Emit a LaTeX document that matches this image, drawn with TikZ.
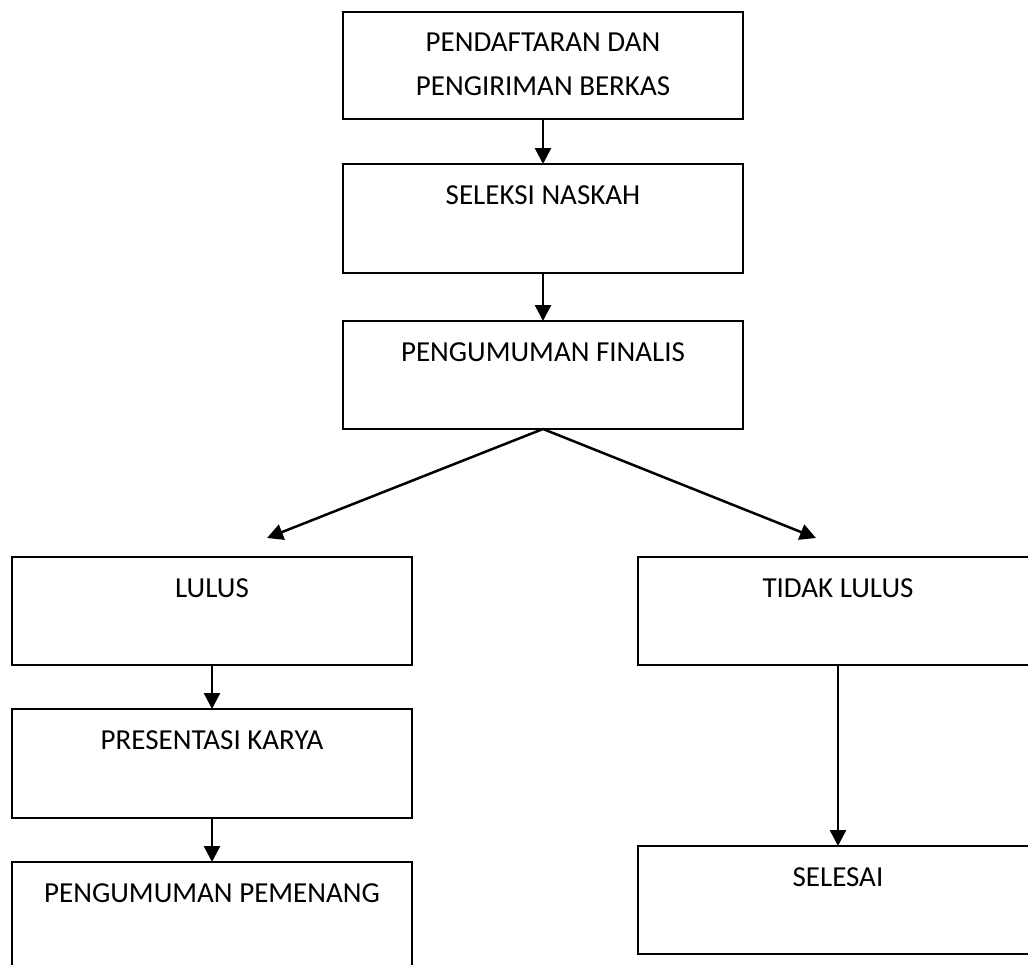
\documentclass[tikz,border=0pt]{standalone}
\usepackage{fontspec}
\setmainfont{Carlito}
\usetikzlibrary{arrows.meta}
\tikzset{
  box/.style={draw=black, line width=2pt, minimum width=400pt, minimum height=108pt, inner sep=0pt, outer sep=0pt, anchor=north west},
  lbl/.style={inner sep=0pt, anchor=north, align=center, font=\fontsize{29}{44}\selectfont},
  arr/.style={line width=2.5pt, -{Triangle[length=16pt,width=16pt]}}
}
\begin{document}
\begin{tikzpicture}[x=1pt,y=1pt]
\useasboundingbox (0,0) rectangle (1028,-964);
\clip (0,0) rectangle (1028,-964);
% boxes
\node[box, minimum height=107pt] (b1) at (343,-12) {};
\node[box, minimum height=109pt] (b2) at (343,-164) {};
\node[box] (b3) at (343,-321) {};
\node[box] (b4) at (12,-557) {};
\node[box, minimum height=109pt] (b5) at (12,-709) {};
\node[box] (b6) at (12,-862) {};
\node[box] (b7) at (638,-557) {};
\node[box] (b8) at (638,-846) {};
% labels
\node[lbl] (t1) at ([yshift=-21pt]b1.north) {PENDAFTARAN DAN\\PENGIRIMAN BERKAS};
\node[lbl] (t2) at ([yshift=-21pt]b2.north) {SELEKSI NASKAH};
\node[lbl] (t3) at ([yshift=-21pt]b3.north) {PENGUMUMAN FINALIS};
\node[lbl] (t4) at ([yshift=-21pt]b4.north) {LULUS};
\node[lbl] (t5) at ([yshift=-21pt]b5.north) {PRESENTASI KARYA};
\node[lbl] (t6) at ([yshift=-21pt]b6.north) {PENGUMUMAN PEMENANG};
\node[lbl] (t7) at ([yshift=-21pt]b7.north) {TIDAK LULUS};
\node[lbl] (t8) at ([yshift=-21pt]b8.north) {SELESAI};
% connectors
\coordinate (lt) at (267,-538);
\coordinate (rt) at (816,-538);
\draw[arr] (b1.south) -- (b2.north);
\draw[arr] (b2.south) -- (b3.north);
\draw[arr] (b3.south) -- (lt);
\draw[arr] (b3.south) -- (rt);
\draw[arr] (b4.south) -- (b5.north);
\draw[arr] (b5.south) -- (b6.north);
\draw[arr] (b7.south) -- (b8.north);
\end{tikzpicture}
\end{document}
